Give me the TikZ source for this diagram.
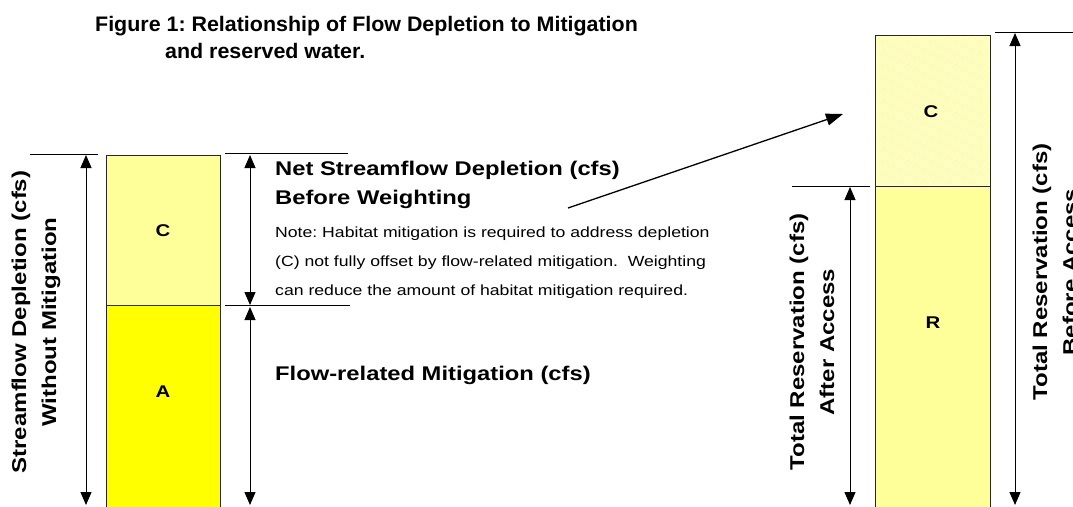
\documentclass[tikz,border=0pt]{standalone}
\usepackage{fontspec}
\setmainfont{Liberation Sans}[FakeStretch=1.2]
\newfontfamily\titlefont{Liberation Sans}[FakeStretch=1.02]
\usetikzlibrary{arrows.meta,patterns}
\definecolor{ylight}{RGB}{255,255,153}
\definecolor{ystrong}{RGB}{255,255,0}
\definecolor{yhatch}{RGB}{255,255,210}
\definecolor{yhatchline}{RGB}{255,255,150}
\definecolor{boxedge}{RGB}{40,40,30}
\tikzset{
  bar/.style={draw=boxedge, line width=0.9pt},
  dimarrow/.style={line width=1pt, {Triangle[width=11pt,length=13pt]}-{Triangle[width=11pt,length=13pt]}},
  tick/.style={line width=0.8pt},
  boxletter/.style={font=\fontsize{17}{19}\selectfont\bfseries},
  biglabel/.style={font=\fontsize{19.8}{22}\selectfont\bfseries, inner sep=0pt},
  titletext/.style={font=\titlefont\fontsize{21}{24}\selectfont\bfseries, inner sep=0pt},
  sidelabel/.style={font=\fontsize{20}{30}\selectfont\bfseries, align=center, rotate=90, inner sep=0pt},
  notetext/.style={font=\fontsize{14.7}{29}\selectfont, align=left, inner sep=0pt, text width=470pt}
}
\begin{document}
\frenchspacing
\begin{tikzpicture}[x=1pt,y=-1pt]
\useasboundingbox (0,0) rectangle (1073,506);
% title
\node[titletext, anchor=base west] (title1) at (95,31) {Figure 1: Relationship of Flow Depletion to Mitigation};
\node[titletext, anchor=base west] (title2) at (165,58) {and reserved water.};

% left bars
\path[bar, fill=ylight] (106,155) rectangle (220,305);
\path[bar, fill=ystrong] (106,305) rectangle (220,512);
\node[boxletter] (lc) at (163,231) {C};
\node[boxletter] (la) at (163,392) {A};

% right bars
\path[fill=yhatch] (875,35) rectangle (990,186);
\path[pattern=north east lines, pattern color=yhatchline] (875.5,35.5) rectangle (989.5,185.5);
\path[bar] (875,35) rectangle (990,186);
\path[bar, fill=ylight] (875,186) rectangle (990,512);
\node[boxletter] (rc) at (931,112) {C};
\node[boxletter] (rr) at (933,323) {R};

% coordinates for dimension lines
\coordinate (lt1) at (30,154);  \coordinate (lt2) at (98,154);
\coordinate (mt1) at (225,153); \coordinate (mt2) at (348,153);
\coordinate (mm1) at (225,305); \coordinate (mm2) at (350,305);
\coordinate (ri1) at (792,186); \coordinate (ri2) at (870,186);
\coordinate (ro1) at (995,32);  \coordinate (ro2) at (1073,32);

\draw[tick] (lt1) -- (lt2);
\draw[tick] (mt1) -- (mt2);
\draw[tick] (mm1) -- (mm2);
\draw[tick] (ri1) -- (ri2);
\draw[tick] (ro1) -- (ro2);

\coordinate (la1) at (86,155);  \coordinate (la2) at (86,505);
\coordinate (ma1) at (250,155); \coordinate (ma2) at (250,305);
\coordinate (mb1) at (250,307); \coordinate (mb2) at (250,505);
\coordinate (ra1) at (850,187); \coordinate (ra2) at (850,505);
\coordinate (rb1) at (1015,33); \coordinate (rb2) at (1015,505);

\draw[dimarrow] (la1) -- (la2);
\draw[dimarrow] (ma1) -- (ma2);
\draw[dimarrow] (mb1) -- (mb2);
\draw[dimarrow] (ra1) -- (ra2);
\draw[dimarrow] (rb1) -- (rb2);

% labels
\node[biglabel, anchor=base west] (net1) at (275,175) {Net Streamflow Depletion (cfs)};
\node[biglabel, anchor=base west] (net2) at (275,204) {Before Weighting};
\node[notetext, anchor=base west] (note) at (275,237) {Note: Habitat mitigation is required to address depletion\\(C) not fully offset by flow-related mitigation.\ \ Weighting\\can reduce the amount of habitat mitigation required.};
\node[biglabel, anchor=base west] (flow) at (275,380) {Flow-related Mitigation (cfs)};

\node[sidelabel] (sd) at (36,322) {Streamflow Depletion (cfs)\\Without Mitigation};
\node[sidelabel] (ta) at (812,342) {Total Reservation (cfs)\\After Access};
\node[sidelabel] (tb) at (1055,272) {Total Reservation (cfs)\\Before Access};

% slanted arrow
\coordinate (sa1) at (568,208);
\coordinate (sa2) at (843,114);
\draw[line width=1.3pt, -{Triangle[width=12pt,length=17pt]}] (sa1) -- (sa2);
\end{tikzpicture}
\end{document}
